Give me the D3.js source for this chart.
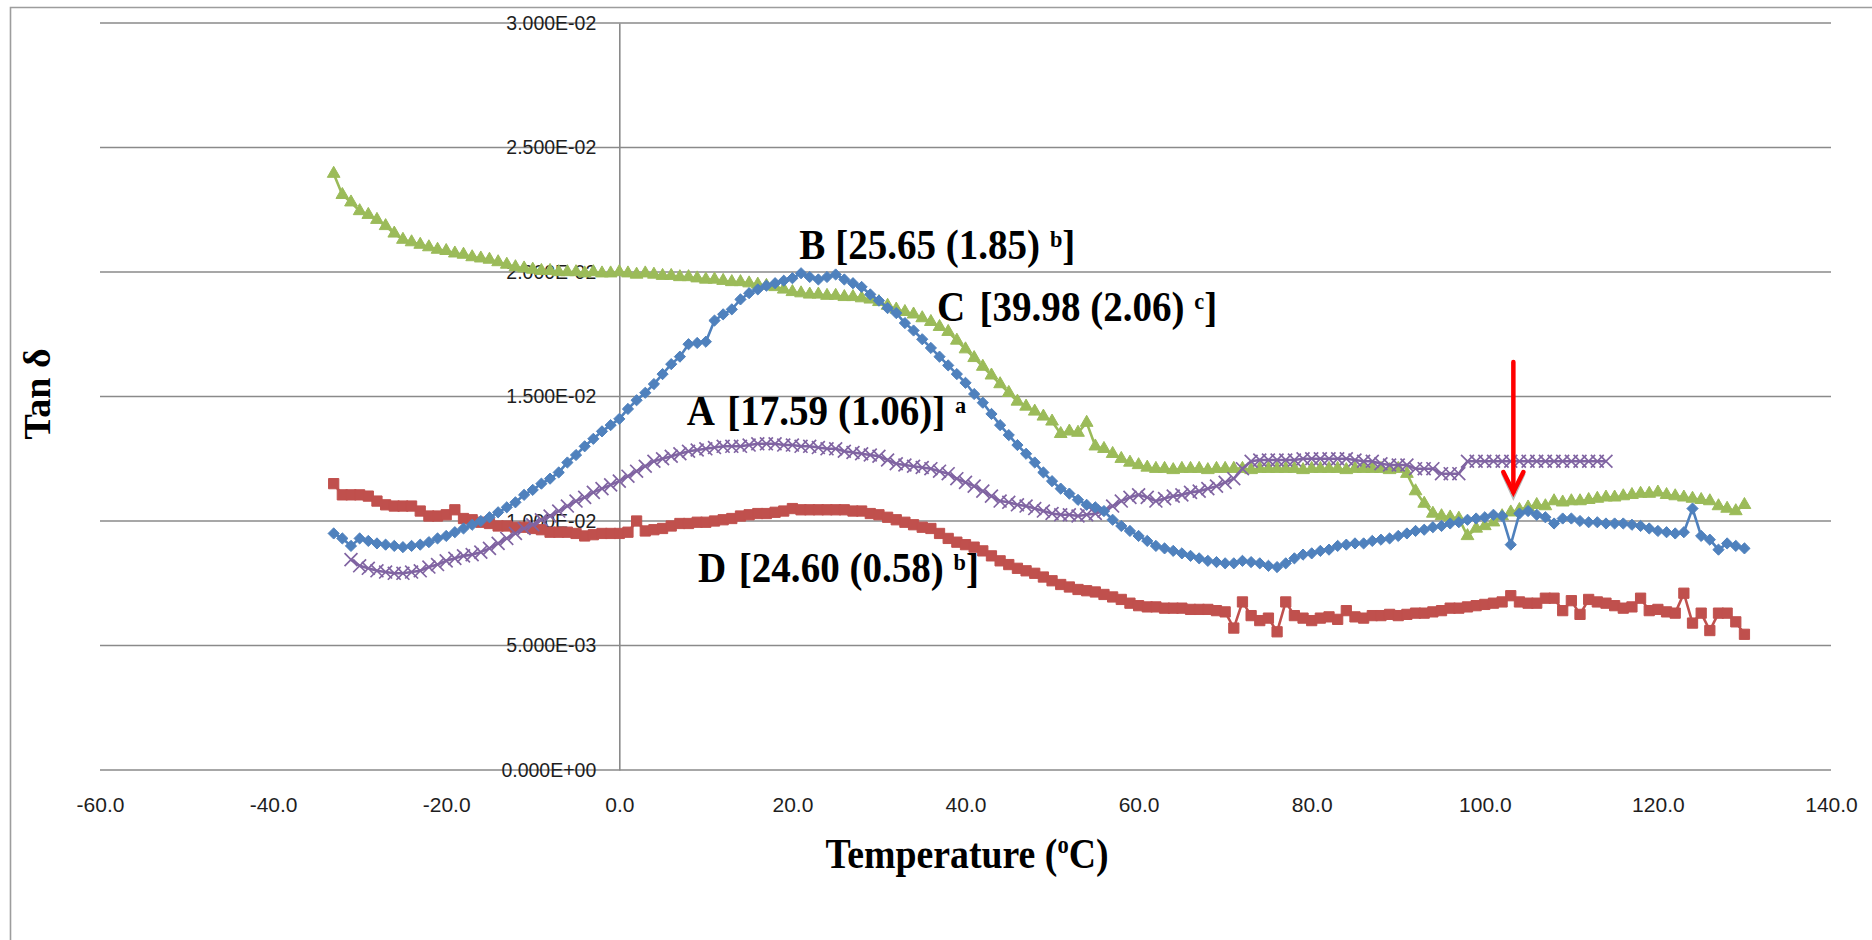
<!DOCTYPE html>
<html>
<head>
<meta charset="utf-8">
<script src="https://cdn.jsdelivr.net/npm/d3@7"></script>
<style>
  html, body { margin: 0; padding: 0; background: #ffffff; }
  svg { display: block; }
</style>
</head>
<body>
<svg id="chart" width="1872" height="940"></svg>
<script>
// ---- axis ticks ----
const xTicks = [-60, -40, -20, 0, 20, 40, 60, 80, 100, 120, 140];
const yTicks = [0, 0.005, 0.010, 0.015, 0.020, 0.025, 0.030];
const yTickLabels = ["0.000E+00", "5.000E-03", "1.000E-02", "1.500E-02", "2.000E-02", "2.500E-02", "3.000E-02"];

// ---- temperature grids (°C), one reading per degree ----
const tempA = d3.range(-31, 115);    // -31 … 114
const tempBCD = d3.range(-33, 131);  // -33 … 130

// ---- tan δ readings, in units of 1e-3 ----
const tanA = [
  8.45, 8.2, 8.1, 8.0, 7.95, 7.9, 7.9, 7.95, 8.0, 8.15,          // -31 … -22
  8.25, 8.4, 8.5, 8.6, 8.65, 8.75, 8.9, 9.1, 9.3, 9.5,           // -21 … -12
  9.7, 9.85, 10.05, 10.2, 10.4, 10.6, 10.8, 10.95, 11.15, 11.3,  // -11 … -2
  11.45, 11.6, 11.8, 12.0, 12.2, 12.4, 12.5, 12.6, 12.7, 12.8,   // -1 … 8
  12.85, 12.9, 12.95, 13.0, 13.0, 13.0, 13.05, 13.1, 13.1, 13.1, // 9 … 18
  13.05, 13.05, 13.0, 13.0, 12.95, 12.9, 12.9, 12.8, 12.75, 12.7,// 19 … 28
  12.65, 12.6, 12.45, 12.3, 12.25, 12.2, 12.15, 12.1, 12.0, 11.9,// 29 … 38
  11.7, 11.55, 11.4, 11.2, 11.0, 10.8, 10.75, 10.65, 10.6, 10.5, // 39 … 48
  10.4, 10.3, 10.25, 10.25, 10.2, 10.25, 10.3, 10.4, 10.6, 10.8, // 49 … 58
  10.95, 11.05, 10.95, 10.8, 10.9, 11.0, 11.05, 11.15, 11.2, 11.3,// 59 … 68
  11.4, 11.55, 11.7, 12.1, 12.4, 12.45, 12.45, 12.45, 12.45, 12.45,// 69 … 78
  12.5, 12.5, 12.5, 12.5, 12.5, 12.5, 12.45, 12.4, 12.4, 12.3,   // 79 … 88
  12.25, 12.25, 12.25, 12.1, 12.1, 12.1, 11.9, 11.9, 11.9, 12.4, // 89 … 98
  12.4, 12.4, 12.4, 12.4, 12.4, 12.4, 12.4, 12.4, 12.4, 12.4,    // 99 … 108
  12.4, 12.4, 12.4, 12.4, 12.4, 12.4                              // 109 … 114
];

const tanB = [
  9.5, 9.3, 9.0, 9.3, 9.2, 9.1, 9.05, 9.0, 8.95, 9.0,            // -33 … -24
  9.05, 9.15, 9.3, 9.4, 9.55, 9.7, 9.85, 10.0, 10.15, 10.35,     // -23 … -14
  10.55, 10.75, 11.05, 11.25, 11.5, 11.7, 11.95, 12.35, 12.65, 13.0, // -13 … -4
  13.3, 13.6, 13.85, 14.1, 14.5, 14.85, 15.15, 15.5, 15.9, 16.3, // -3 … 6
  16.6, 17.1, 17.15, 17.2, 18.05, 18.3, 18.5, 18.9, 19.15, 19.3, // 7 … 16
  19.45, 19.55, 19.65, 19.75, 19.95, 19.8, 19.7, 19.8, 19.9, 19.7,// 17 … 26
  19.55, 19.4, 19.1, 18.85, 18.55, 18.35, 17.95, 17.65, 17.3, 16.95, // 27 … 36
  16.6, 16.25, 15.9, 15.55, 15.1, 14.75, 14.3, 13.85, 13.45, 13.05,  // 37 … 46
  12.7, 12.35, 11.95, 11.6, 11.3, 11.1, 10.85, 10.65, 10.55, 10.4,   // 47 … 56
  10.05, 9.8, 9.6, 9.4, 9.2, 9.0, 8.9, 8.8, 8.7, 8.6,            // 57 … 66
  8.5, 8.4, 8.35, 8.3, 8.3, 8.4, 8.35, 8.3, 8.2, 8.15,           // 67 … 76
  8.3, 8.5, 8.65, 8.7, 8.8, 8.85, 9.0, 9.05, 9.1, 9.1,           // 77 … 86
  9.2, 9.25, 9.3, 9.4, 9.5, 9.6, 9.65, 9.75, 9.8, 9.9,           // 87 … 96
  9.95, 10.05, 10.1, 10.15, 10.25, 10.2, 9.05, 10.3, 10.4, 10.25,// 97 … 106
  10.15, 9.9, 10.1, 10.1, 10.0, 9.95, 9.95, 9.9, 9.9, 9.9,       // 107 … 116
  9.85, 9.8, 9.7, 9.6, 9.55, 9.5, 9.55, 10.5, 9.4, 9.25,         // 117 … 126
  8.85, 9.1, 9.0, 8.9                                            // 127 … 130
];

const tanC = [
  23.95, 23.1, 22.8, 22.45, 22.3, 22.1, 21.85, 21.55, 21.3, 21.2,// -33 … -24
  21.1, 21.0, 20.9, 20.85, 20.75, 20.7, 20.6, 20.55, 20.5, 20.4, // -23 … -14
  20.3, 20.2, 20.15, 20.1, 20.05, 20.05, 20.0, 20.0, 20.0, 19.95,// -13 … -4
  20.0, 19.95, 19.95, 20.0, 19.95, 19.9, 19.95, 19.9, 19.85, 19.85, // -3 … 6
  19.8, 19.8, 19.75, 19.7, 19.7, 19.65, 19.6, 19.6, 19.55, 19.5, // 7 … 16
  19.45, 19.4, 19.3, 19.2, 19.15, 19.1, 19.1, 19.05, 19.05, 19.0,// 17 … 26
  19.0, 18.95, 18.9, 18.8, 18.65, 18.5, 18.4, 18.3, 18.15, 18.0, // 27 … 36
  17.8, 17.6, 17.25, 16.9, 16.55, 16.2, 15.85, 15.5, 15.15, 14.8,// 37 … 46
  14.6, 14.4, 14.2, 14.0, 13.5, 13.6, 13.55, 13.95, 13.0, 12.9,  // 47 … 56
  12.7, 12.5, 12.35, 12.25, 12.15, 12.1, 12.1, 12.05, 12.1, 12.1,// 57 … 66
  12.1, 12.05, 12.1, 12.1, 12.1, 12.1, 12.05, 12.1, 12.1, 12.1,  // 67 … 76
  12.1, 12.1, 12.05, 12.1, 12.1, 12.1, 12.1, 12.05, 12.1, 12.1,  // 77 … 86
  12.1, 12.1, 12.05, 12.1, 11.9, 11.2, 10.7, 10.3, 10.2, 10.15,  // 87 … 96
  10.1, 9.4, 9.7, 9.8, 9.95, 10.2, 10.35, 10.45, 10.55, 10.65,   // 97 … 106
  10.6, 10.8, 10.75, 10.8, 10.8, 10.85, 10.9, 10.95, 10.95, 11.0,// 107 … 116
  11.05, 11.1, 11.1, 11.15, 11.05, 11.0, 10.95, 10.9, 10.85, 10.8,// 117 … 126
  10.6, 10.5, 10.4, 10.65                                        // 127 … 130
];

const tanD = [
  11.5, 11.05, 11.05, 11.05, 11.0, 10.8, 10.65, 10.6, 10.6, 10.6,// -33 … -24
  10.4, 10.2, 10.2, 10.25, 10.45, 10.1, 10.05, 9.95, 9.9, 9.8,   // -23 … -14
  9.8, 9.75, 9.75, 9.7, 9.65, 9.55, 9.55, 9.55, 9.5, 9.4,        // -13 … -4
  9.45, 9.5, 9.5, 9.5, 9.55, 10.0, 9.6, 9.65, 9.7, 9.8,          // -3 … 6
  9.9, 9.9, 9.95, 9.95, 10.0, 10.05, 10.1, 10.2, 10.25, 10.3,    // 7 … 16
  10.3, 10.35, 10.4, 10.5, 10.45, 10.45, 10.45, 10.45, 10.45, 10.45, // 17 … 26
  10.4, 10.4, 10.3, 10.25, 10.15, 10.05, 9.95, 9.85, 9.75, 9.7,  // 27 … 36
  9.5, 9.3, 9.15, 9.05, 8.95, 8.8, 8.6, 8.4, 8.25, 8.1,          // 37 … 46
  8.0, 7.9, 7.75, 7.6, 7.45, 7.35, 7.25, 7.2, 7.15, 7.05,        // 47 … 56
  6.95, 6.85, 6.7, 6.6, 6.55, 6.55, 6.5, 6.5, 6.5, 6.45,         // 57 … 66
  6.45, 6.45, 6.4, 6.35, 5.7, 6.75, 6.2, 6.0, 6.1, 5.55,         // 67 … 76
  6.75, 6.2, 6.1, 6.0, 6.1, 6.15, 6.05, 6.4, 6.15, 6.1,          // 77 … 86
  6.2, 6.2, 6.25, 6.2, 6.25, 6.3, 6.3, 6.35, 6.4, 6.5,           // 87 … 96
  6.5, 6.55, 6.6, 6.65, 6.7, 6.75, 7.0, 6.75, 6.7, 6.7,          // 97 … 106
  6.9, 6.9, 6.4, 6.8, 6.25, 6.85, 6.75, 6.7, 6.6, 6.5,           // 107 … 116
  6.55, 6.9, 6.4, 6.45, 6.35, 6.3, 7.1, 5.9, 6.3, 5.6,           // 117 … 126
  6.3, 6.3, 5.95, 5.45                                           // 127 … 130
];

// ---- series styling ----
const seriesDefs = [
  { key: "D", temps: tempBCD, vals: tanD, color: "#C0504D", symbol: d3.symbolSquare,   size: 105, filled: true },
  { key: "C", temps: tempBCD, vals: tanC, color: "#9BBB59", symbol: d3.symbolTriangle, size: 70,  filled: true },
  { key: "A", temps: tempA,   vals: tanA, color: "#8064A2", symbol: d3.symbolTimes,    size: 110, filled: false },
  { key: "B", temps: tempBCD, vals: tanB, color: "#4F81BD", symbol: d3.symbolDiamond2, size: 80,  filled: true }
];

// ---- peak annotations (anchor in data units) ----
const peakLabels = [
  { letter: "B", t: 20.8, v: 0.02054, gap: 0, body: "[25.65 (1.85) ", sup: "b", tail: "]" },
  { letter: "C", t: 36.7, v: 0.01805, gap: 5, body: "[39.98 (2.06) ", sup: "c", tail: "]" },
  { letter: "A", t: 7.8,  v: 0.01384, gap: 5, body: "[17.59 (1.06)] ", sup: "a", tail: "" },
  { letter: "D", t: 9.1,  v: 0.00755, gap: 3, body: "[24.60 (0.58) ", sup: "b", tail: "]" }
];
const arrowMark = { t: 103.3, vTop: 0.01639, vTip: 0.01108 };

// ---- drawing ----
const W = 1872, H = 940;
const svg = d3.select("#chart");
const x = d3.scaleLinear().domain([-60, 140]).range([100, 1831]);
const y = d3.scaleLinear().domain([0, 0.03]).range([770, 23]);

const sansFont = "'Liberation Sans', Arial, sans-serif";
const serifFont = "'Liberation Serif', 'Times New Roman', serif";

// chart frame
svg.append("path")
  .attr("d", `M10.5,${H} V7.5 H${W}`)
  .attr("fill", "none")
  .attr("stroke", "#9d9d9d")
  .attr("stroke-width", 1.6);

// horizontal gridlines
svg.append("g")
  .selectAll("line")
  .data(yTicks)
  .join("line")
  .attr("x1", x(-60)).attr("x2", x(140))
  .attr("y1", d => y(d)).attr("y2", d => y(d))
  .attr("stroke", "#8a8a8a")
  .attr("stroke-width", 1.6);

// vertical axis at 0 °C with its labels
const yAxis = d3.axisLeft(y)
  .tickValues(yTicks)
  .tickFormat((d, i) => yTickLabels[i])
  .tickSizeInner(0)
  .tickSizeOuter(0)
  .tickPadding(23);
const gy = svg.append("g").attr("transform", `translate(${x(0)},0)`).call(yAxis);
gy.select(".domain").attr("stroke", "#8a8a8a").attr("stroke-width", 1.6);
gy.selectAll("text")
  .attr("font-family", sansFont)
  .attr("font-size", 19.5)
  .attr("fill", "#1e1e1e");

// horizontal axis labels
const xAxis = d3.axisBottom(x)
  .tickValues(xTicks)
  .tickFormat(d => d.toFixed(1))
  .tickSizeInner(0)
  .tickSizeOuter(0)
  .tickPadding(27);
const gx = svg.append("g").attr("transform", `translate(0,${y(0)})`).call(xAxis);
gx.select(".domain").remove();
gx.selectAll("text")
  .attr("font-family", sansFont)
  .attr("font-size", 21)
  .attr("fill", "#1e1e1e");

// data series
const line = d3.line().x(d => x(d.t)).y(d => y(d.v));
seriesDefs.forEach(s => {
  const pts = s.temps.map((t, i) => ({ t, v: s.vals[i] * 1e-3 }));
  const g = svg.append("g").attr("class", "series-" + s.key);
  g.append("path")
    .datum(pts)
    .attr("d", line)
    .attr("fill", "none")
    .attr("stroke", s.color)
    .attr("stroke-width", 2.6);
  const sym = d3.symbol().type(s.symbol).size(s.size);
  g.selectAll("path.mk")
    .data(pts)
    .join("path")
    .attr("class", "mk")
    .attr("d", sym)
    .attr("transform", d => `translate(${x(d.t)},${y(d.v)})`)
    .attr("fill", s.filled ? s.color : "none")
    .attr("stroke", s.color)
    .attr("stroke-width", s.filled ? 1 : 1.7);
});

// peak annotations
peakLabels.forEach(p => {
  const t = svg.append("text")
    .attr("transform", `translate(${x(p.t)},${y(p.v)}) scale(0.93,1)`)
    .attr("font-family", serifFont)
    .attr("font-weight", "bold")
    .attr("font-size", 42)
    .attr("fill", "#000");
  t.append("tspan").text(p.letter + " ");
  t.append("tspan").attr("dx", p.gap).text(p.body);
  t.append("tspan").attr("font-size", 24).attr("dy", -12).text(p.sup);
  if (p.tail) t.append("tspan").attr("dy", 12).text(p.tail);
});

// red arrow marking the event near 103 °C
const ax = x(arrowMark.t), aTop = y(arrowMark.vTop), aTip = y(arrowMark.vTip);
svg.append("path")
  .attr("d", `M${ax - 10},${aTip - 20} L${ax},${aTip + 2} L${ax + 10},${aTip - 20}`)
  .attr("fill", "none")
  .attr("stroke", "#9a9a9a")
  .attr("stroke-width", 4)
  .attr("stroke-linecap", "round")
  .attr("stroke-linejoin", "miter")
  .attr("opacity", 0.7);
svg.append("line")
  .attr("x1", ax).attr("x2", ax)
  .attr("y1", aTop).attr("y2", aTip - 2)
  .attr("stroke", "#ff0000")
  .attr("stroke-width", 4.5)
  .attr("stroke-linecap", "round");
svg.append("path")
  .attr("d", `M${ax - 10},${aTip - 22} L${ax},${aTip - 2} L${ax + 10},${aTip - 22}`)
  .attr("fill", "none")
  .attr("stroke", "#ff0000")
  .attr("stroke-width", 4.5)
  .attr("stroke-linecap", "round")
  .attr("stroke-linejoin", "miter");

// axis titles
const xt = svg.append("text")
  .attr("transform", `translate(${967},${868}) scale(0.9,1)`)
  .attr("text-anchor", "middle")
  .attr("font-family", serifFont)
  .attr("font-weight", "bold")
  .attr("font-size", 42)
  .attr("fill", "#000");
xt.append("tspan").text("Temperature (");
xt.append("tspan").attr("font-size", 25).attr("dy", -15).text("o");
xt.append("tspan").attr("dy", 15).text("C)");

svg.append("text")
  .attr("transform", `translate(${50},${394}) rotate(-90)`)
  .attr("text-anchor", "middle")
  .attr("font-family", serifFont)
  .attr("font-weight", "bold")
  .attr("font-size", 38)
  .attr("fill", "#000")
  .text("Tan δ");
</script>
</body>
</html>
